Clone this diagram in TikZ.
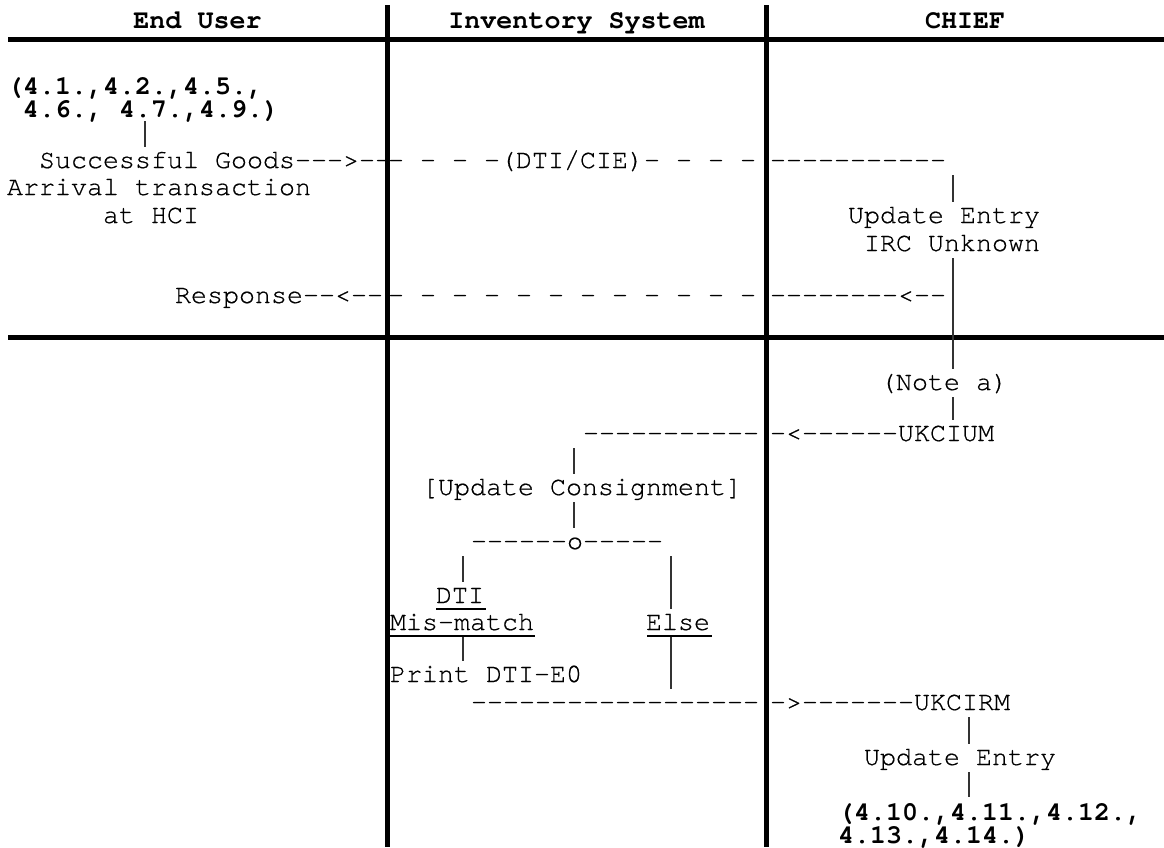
\documentclass[tikz,border=0pt]{standalone}
\usepackage{fontspec}
\setmonofont{TeX Gyre Cursor}
\newfontfamily\cursorreg{TeX Gyre Cursor}[FakeBold=0.5]
\usetikzlibrary{calc}
\newcommand{\cfont}{\cursorreg\fontsize{26.67}{32}\selectfont}
\newcommand{\bfont}{\ttfamily\bfseries\fontsize{26.67}{32}\selectfont}
\tikzset{
  txt/.style={inner sep=0pt, outer sep=0pt, anchor=base west,
    font=\cfont, text height=21pt, text depth=7pt},
  reftxt/.style={txt, font=\bfont, text height=18pt, text depth=4pt},
  head/.style={reftxt, anchor=base},
  vbar/.style={line width=1.4pt, black!80},
  lane/.style={line width=5pt, black},
  uline/.style={line width=2.2pt, black}
}
\begin{document}
\begin{tikzpicture}[x=1pt, y=-1pt]
\fill[white] (0,0) rectangle (1164,847);
\useasboundingbox (0,0) rectangle (1164,847);

% swimlane frame
\draw[lane] (8,39.5) -- (1164,39.5);
\draw[lane] (8,337.5) -- (1164,337.5);
\draw[lane] (387,5) -- (387,847);
\draw[lane] (766,5) -- (766,847);

% lane headings
\node[head] (hEU) at (197.5,28) {End User};
\node[head] (hIS) at (576.5,28) {Inventory System};
\node[head] (hCH) at (965,28) {CHIEF};

% goods arrival and response
\node[reftxt] (refA) at (7,94) {(4.1.,4.2.,4.5.,};
\node[reftxt] (refB) at (23,117) {4.6., 4.7.,4.9.)};
\node[txt] (succ) at (39,168) {Successful Goods--->--};
\node[txt] (dtic) at (388,168) {- - - -(DTI/CIE)- - - -};
\node[txt] (chA) at (770,168) {-----------};
\node[txt] (arr) at (7,195) {Arrival transaction};
\node[txt] (hci) at (103,223) {at HCI};
\node[txt] (upd1) at (848,223) {Update Entry};
\node[txt] (irc) at (864,251) {IRC Unknown};
\node[txt] (resp) at (175,303) {Response--<--};
\node[txt] (respM) at (388,303) {- - - - - - - - - - - -};
\node[txt] (respC) at (770,303) {--------<--};

% consignment update
\node[txt] (note) at (880,390) {(Note a)};
\node[txt] (cium) at (583,441) {-----------};
\node[txt] (ukcium) at (770,441) {-<------UKCIUM};
\node[txt] (cons) at (422,495) {[Update Consignment]};
\node[txt] (fork) at (471,549) {------o-----};
\node[txt] (dti) at (436,603) {DTI};
\node[txt] (mism) at (390,630) {Mis-match};
\node[txt] (else) at (646,630) {Else};
\node[txt] (prnt) at (390,682) {Print DTI-E0};
\node[txt] (cirm) at (471,710) {------------------};
\node[txt] (ukcirm) at (770,710) {->-------UKCIRM};
\node[txt] (upd2) at (864,765) {Update Entry};
\node[reftxt] (refC) at (838,820) {(4.10.,4.11.,4.12.,};
\node[reftxt] (refD) at (838,843) {4.13.,4.14.)};

% underlined conditions
\draw[uline] ($(dti.base west)+(0,6)$) -- ($(dti.base east)+(2,6)$);
\draw[uline] ($(mism.base west)+(0,6)$) -- ($(mism.base east)+(1,6)$);
\draw[uline] ($(else.base west)+(1,6)$) -- ($(else.base east)+(2,6)$);

% vertical flow columns
\coordinate (xA) at (145,0);
\coordinate (xC) at (953,0);
\coordinate (xM) at (574,0);
\coordinate (xL) at (463,0);
\coordinate (xR) at (671,0);
\coordinate (xD) at (969,0);

\draw[vbar] (refB.south -| xA) -- (succ.north -| xA);
\draw[vbar] (chA.south -| xC) -- (upd1.north -| xC);
\draw[vbar] (irc.south -| xC) -- (note.north -| xC);
\draw[vbar] (note.south -| xC) -- (ukcium.north -| xC);
\draw[vbar] (cium.south -| xM) -- (cons.north -| xM);
\draw[vbar] (cons.south -| xM) -- (fork.north -| xM);
\draw[vbar] (fork.south -| xL) -- (dti.north -| xL);
\draw[vbar] (fork.south -| xR) -- (else.north -| xR);
\draw[vbar] (mism.south -| xL) -- (prnt.north -| xL);
\draw[vbar] (else.south -| xR) -- (cirm.north -| xR);
\draw[vbar] (ukcirm.south -| xD) -- (upd2.north -| xD);
\draw[vbar, shorten >=5pt] (upd2.south -| xD) -- (refC.north -| xD);
\end{tikzpicture}
\end{document}
